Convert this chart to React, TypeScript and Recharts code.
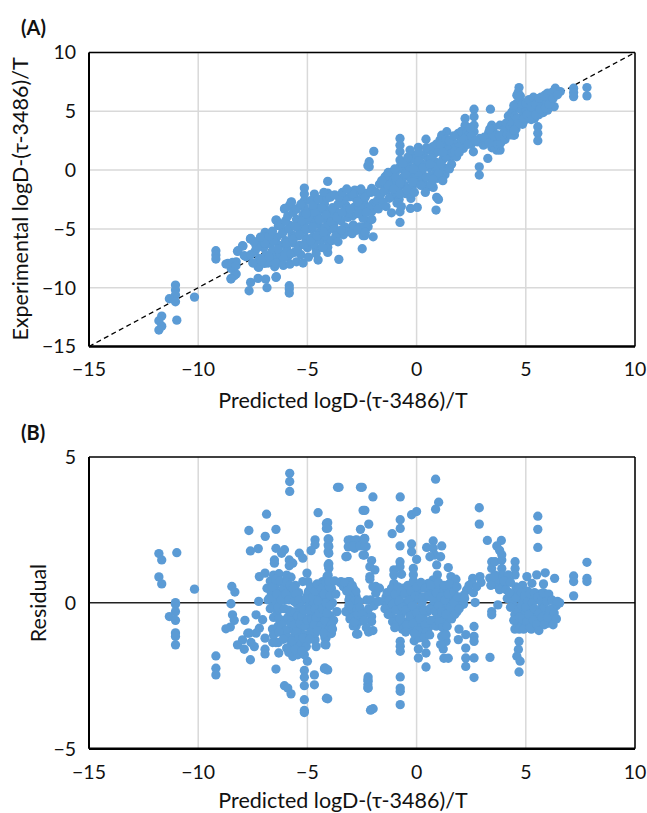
import React from 'react';
import {
  CartesianGrid,
  Label,
  ReferenceLine,
  Scatter,
  ScatterChart,
  XAxis,
  YAxis,
} from 'recharts';

type Pair = [number, number];

const xTicks = [-15, -10, -5, 0, 5, 10];
const parityYTicks = [-15, -10, -5, 0, 5, 10];
const residualYTicks = [-5, 0, 5];
const xTitle = 'Predicted logD-(τ-3486)/T';
const parityYTitle = 'Experimental logD-(τ-3486)/T';
const residualYTitle = 'Residual';
const dotColor = '#5B9BD5';

// panel A, predicted vs experimental
const parityLow: Pair[] = [
  [-11.04, -9.78], [-11.04, -10.2], [-11.04, -10.63], [-11.32, -10.94], [-11.04, -11.2], [-10.17, -10.8],
  [-11.67, -12.41], [-11.8, -12.81], [-11.67, -13.27], [-11.8, -13.6], [-10.98, -12.76],
  [-9.19, -6.86], [-9.19, -7.22], [-9.19, -7.56], [-8.64, -7.94], [-8.26, -7.8], [-8.49, -8.36], [-8.26, -8.84], [-8.49, -9.2],
  [-8.73, -7.99], [-8.43, -7.85], [-8.27, -8.13], [-8.35, -8.98], [-8.5, -9.26],
  [-8.18, -6.86], [-7.95, -6.46], [-7.8, -7.37], [-7.6, -5.81], [-7.34, -6.1], [-6.91, -5.39], [-6.91, -5.81], [-7.11, -6.38],
  [-7.6, -9.55], [-7.67, -10.26], [-7.26, -9.21], [-6.91, -9.27], [-6.85, -10.0], [-6.42, -9.07],
  [-5.83, -9.83], [-5.83, -10.11], [-5.83, -10.45], [-7.26, -8.22], [-6.96, -7.94], [-6.5, -8.22], [-7.23, -8.27],
  [-6.42, -4.25], [-6.04, -3.26], [-5.73, -2.7], [-5.83, -3.03], [-6.44, -4.25], [-6.33, -4.73], [-6.94, -5.3], [-6.94, -5.72],
  [-7.61, -5.86], [-7.2, -6.15], [-7.97, -6.43], [-8.2, -6.91], [-7.89, -7.28], [-7.35, -6.43], [-4.51, -7.65], [-3.56, -7.59],
  [-4.07, -7.0], [-4.6, -6.71], [-4.58, -6.74], [-2.49, -6.69], [-2.38, -5.58], [-6.44, -9.12],
];
const parityMiddleLeft: Pair[] = [
  [-7.6, -7.2], [-7.4, -6.9], [-7.2, -7.5], [-7, -6.6], [-6.9, -7.2], [-6.8, -7.9], [-6.7, -6.3], [-6.6, -6.9], [-6.5, -7.5],
  [-6.4, -5.7], [-6.3, -6.4], [-6.25, -7.1], [-6.2, -7.8], [-6.1, -5.2], [-6, -6], [-5.95, -6.7], [-5.9, -7.4], [-5.8, -4.7],
  [-5.7, -5.5], [-5.65, -6.2], [-5.6, -7], [-5.5, -4.2], [-5.45, -4.9], [-5.4, -5.6], [-5.35, -6.4], [-5.3, -7.2],
  [-5.2, -3.8], [-5.15, -4.5], [-5.1, -5.1], [-5.05, -5.8], [-5, -6.6], [-4.9, -3.6], [-4.85, -4.3], [-4.8, -5], [-4.75, -5.7],
  [-4.7, -6.3], [-4.6, -3.2], [-4.55, -3.9], [-4.5, -4.6], [-4.45, -5.3], [-4.4, -6], [-5.14, -1.53], [-5.14, -2.04], [-5.14, -2.6],
  [-5.14, -3.17], [-4.68, -2.04], [-4.07, -0.96], [-4.07, -1.95], [-4.3, -2.46], [-4.22, -2.89], [-4.07, -3.46], [-4.02, -4.02],
  [-4.07, -4.59], [-4.07, -5.16], [-4.07, -6.0], [-4.07, -6.57], [-5.75, -2.75], [-6.05, -3.31], [-4.3, -3.4], [-4.25, -4.1],
  [-4.2, -4.9], [-4.15, -5.6], [-3.95, -3.9], [-3.8, -4.6], [-3.7, -3.5], [-3.5, -4.2], [-3.46, -4.31],
];
const parityMiddle: Pair[] = [
  [-3.23, -3.03], [-2.84, -2.32], [-2.69, -1.76], [-2.46, -2.04], [-2.92, -3.88], [-3.15, -4.02], [-2.77, -3.17], [-2.39, -2.89],
  [-3.15, -5.01], [-2.84, -5.16], [-2.46, -4.87], [-2.23, -4.31], [-2.23, 0.37], [-1.96, 1.59], [-2.17, 0.71], [-2.17, 0.28],
  [-3.29, -2.97], [-2.83, -1.7], [-3.06, -2.27], [-3.13, -3.68], [-2.6, -2.55], [-2.83, -3.12], [-2.06, -1.56], [-2.29, -1.98],
  [-1.99, -2.83], [-2.06, -3.54], [-3.29, -4.82], [-2.9, -4.67], [-2.6, -4.82], [-2.22, -4.82], [-3.21, -5.24], [-2.45, -4.11],
  [-1.99, -5.67], [-2.45, -5.58], [-1.15, -3.63], [-0.76, -3.54], [-0.76, -4.45], [-0.28, -3.26], [0.03, -3.17],
  [-0.26, -2.41], [-0.26, -1.98], [0.43, -1.56], [0.76, -1.47], [0.92, -2.32], [1.0, -2.49], [0.89, -3.4],
  [-0.76, 2.69], [-0.76, 2.12], [-0.76, 1.56], [-0.76, 0.85], [-0.76, 0.28], [0.43, 2.63], [0.08, 1.93], [-0.08, 1.27], [0.31, 1.27],
  [-1.55, -1.1], [-1.4, -0.5], [-1.35, -1.7], [-1.2, -0.7], [-1.1, -1.3], [-1.05, -2.2], [-0.95, -0.1], [-0.9, -0.9], [-0.85, -1.7],
  [-0.8, -2.5], [-0.7, 0.1], [-0.6, -0.6], [-0.55, -1.3], [-0.5, -2], [-0.4, 0.6], [-0.3, -0.1], [-0.25, -0.8], [-0.2, -1.4],
  [-0.1, 0.9], [-0.05, 0.2], [0, -0.5], [0.05, -1.1], [0.15, 1.2], [0.2, 0.6], [0.25, -0.1], [0.3, -0.8], [0.35, -1.3],
  [0.5, 1.7], [0.55, 0.9], [0.6, 0.2], [0.65, -0.5], [0.7, -1.1], [0.8, 1.4], [0.85, 0.7], [0.9, 0], [0.95, -0.7],
  [1.07, 2.55], [1.15, 1.6], [1.2, 0.9], [1.25, 0.2], [1.3, -0.4], [1.15, -0.71], [1.45, 0.14], [1.38, 3.26], [1.15, 2.97],
  [1.5, 1.9], [1.55, 1.1], [1.6, 0.5], [1.91, 3.12], [1.83, 1.13], [1.75, 2.2],
];
const parityHigh: Pair[] = [
  [2.22, 4.39], [2.63, 5.18], [2.63, 4.53], [2.22, 3.82], [2.63, 3.82], [2.45, 3.4], [2.63, 3.26], [3.38, 5.18], [3.44, 3.82],
  [3.82, 3.82], [4.05, 3.82], [3.26, 0.99], [2.87, 0.28], [2.87, -0.42], [2.14, 1.84], [2.6, 1.56], [3.06, 2.12], [3.67, 1.7],
  [3.82, 1.7], [3.36, 2.55], [3.52, 3.12], [3.98, 3.12], [4.43, 2.97], [4.51, 3.97], [4.59, 5.38], [4.59, 6.37],
  [3.6, 2.4], [3.75, 2.1], [3.9, 2.6], [3.5, 3.5], [3.7, 2.8], [4.1, 3.3], [4.2, 4], [4.3, 4.5], [2.3, 2.5], [2.5, 2.2], [2.8, 2.4],
  [4.69, 7.02], [4.69, 6.25], [4.59, 5.68], [4.43, 5.11], [4.28, 4.26], [4.48, 2.98], [5.55, 3.69], [5.55, 3.13], [5.55, 2.5],
  [7.19, 6.96], [7.19, 6.59], [7.19, 6.25], [7.8, 7.02], [7.8, 6.31], [6.35, 6.96], [6.58, 6.68], [6.3, 5.4],
  [4.65, 6.6], [4.7, 5.9], [4.75, 5.2], [4.8, 4.5], [4.85, 3.9], [4.9, 5.6], [5, 5], [5, 4.3], [5.1, 5.9], [5.15, 5.3], [5.2, 4.6],
  [5.3, 5.8], [5.35, 5.1], [5.4, 4.4], [5.5, 6], [5.55, 5.4], [5.6, 4.7], [5.7, 6.2], [5.75, 5.6], [5.8, 4.9], [5.9, 6.4],
  [5.95, 5.7], [6, 5.1], [6.1, 6.5], [6.15, 5.9],
];
// the solid band along the dashed line
const parityBand: Pair[] = [
  [-7.5, -7.9], [-7.3, -6.6], [-7.1, -7.7], [-6.95, -6.2], [-6.75, -7.4], [-6.55, -6.0], [-6.45, -7.9], [-6.35, -6.7], [-6.15, -5.4], [-6.05, -7.4],
  [-5.95, -6.2], [-5.85, -5], [-5.75, -7.1], [-5.65, -5.9], [-5.55, -4.8], [-5.45, -6.8], [-5.35, -5.5], [-5.25, -4.3], [-5.15, -6.3], [-5.05, -5],
  [-4.95, -4], [-4.85, -6], [-4.75, -4.8], [-4.65, -3.6], [-4.55, -5.6], [-4.45, -4.2], [-4.35, -3.2], [-4.25, -5.3], [-4.15, -3.8], [-4.1, -2.4],
  [-3.9, -4.4], [-3.85, -3.2], [-3.75, -5], [-3.65, -4], [-3.6, -2.9], [-3.4, -3.6], [-3.3, -2.5], [-3.05, -3.3], [-2.95, -2], [-2.7, -2.7],
  [-2.55, -1.6], [-2.35, -2.3], [-2.2, -3.2], [-2.1, -1.9], [-3.35, -5.5], [-2.95, -5.4], [-2.7, -5.1], [-2.35, -5.3],
  [-1.85, -1.9], [-1.8, -2.6], [-1.7, -1.2], [-1.65, -2.1], [-1.5, -1.8], [-1.45, -0.6], [-1.3, -1.3], [-1.25, -2.4], [-1.15, -0.2], [-1.05, -1.6],
  [-0.95, -0.6], [-0.9, -2.8], [-0.75, -1.1], [-0.75, -2], [-0.7, -3.1], [-0.5, -0.3], [-0.45, -1.7], [-0.35, 0.3], [-0.15, -1], [-0.1, -1.9],
  [0.1, 0.8], [0.1, -0.2], [0.2, -1.3], [0.4, 0.4], [0.45, -0.6], [0.45, 1.9], [0.65, 1], [0.65, -1.2], [0.75, 2], [0.85, 0.3], [1, 1.6], [1, -0.3],
  [1.1, 0.6], [1.3, 2], [1.35, 1.1], [1.45, 1.7], [1.65, 1.5], [1.95, 2], [2.05, 2.6], [2.05, 3.3], [2.3, 3.1], [2.35, 2.9], [2.5, 2.9], [2.9, 2.7],
  [3.3, 3.2], [3.4, 2.2], [3.45, 1.9], [3.55, 2], [3.7, 3], [3.7, 2.2], [3.85, 2.3], [3.95, 2.9], [4.05, 3.5], [4.1, 4], [4.2, 4.6], [4.3, 3.7],
  [4.35, 4.9], [4.4, 4], [4.45, 5.5], [4.5, 4.6], [4.55, 3.5], [4.6, 4.4], [4.65, 3.9], [4.75, 6.3], [4.85, 5.6], [4.9, 4.4], [5, 5.7], [5.05, 4.7],
  [5.15, 6], [5.25, 5.4], [5.25, 4.3], [5.35, 6.2], [5.45, 5.6], [5.45, 4.7], [5.6, 6.1], [5.65, 5.2], [5.85, 6.3], [5.9, 5.3], [6.0, 6.55], [6.05, 5.6],
  [6.2, 6.6], [6.25, 6.1], [6.45, 6.4],
];
const parityEdges: Pair[] = [
  [-7.45, -6.1], [-7.15, -5.7], [-6.75, -5.6], [-6.6, -5.2], [-6.2, -4.6], [-6, -4.3], [-5.9, -3.9], [-5.65, -3.6], [-5.5, -3.3], [-5.3, -2.9], [-5.05, -3.7],
  [-4.85, -2.6], [-4.75, -3], [-4.5, -2.5], [-4.25, -1.9], [-3.95, -2.3], [-3.75, -2.1], [-3.55, -2.3], [-6.1, -8.1], [-5.8, -8], [-5.5, -7.8], [-5.2, -7.9],
  [-4.95, -7.4], [-4.6, -7.1], [-4.3, -6.6], [-3.9, -6], [-3.7, -5.6], [-3.45, -5.1], [-3.6, -6.1], [-3.4, -1.9], [-3.2, -1.6], [-2.5, -3.4], [-2.65, -3.7],
  [-2.3, -3.6], [-2.05, -4.2], [-1.75, -3.3], [-1.55, -2.7], [-1.4, -3.1], [-1.6, -0.9], [-1.3, -0.2], [-1.0, 0.1], [-0.6, 0.6], [-0.4, 1.1], [-0.3, 1.7],
  [-0.15, 0.1], [0.1, 1.5], [0.3, 0.2], [0.6, 0.5], [0.9, 2.2], [1.1, 2.2], [1.2, 1.5], [1.35, 2.6], [1.5, 2.5], [1.7, 2.9], [1.75, 1.6], [1.5, 0.1], [1.2, -0.9],
  [0.4, -1.9], [0.75, -0.8], [1.95, 1.5], [2.15, 2.6], [2.35, 2.2], [2.45, 3.6], [2.7, 2.5], [3.1, 2.8], [3.3, 2.3], [3.55, 2.9], [3.35, 3.5], [3.8, 2.9],
  [4.05, 2.6], [4.15, 3], [4.3, 3], [4.45, 3.4],
];

// panel B, predicted vs residual
const residualLow: Pair[] = [
  [-11.8, 1.69], [-11.67, 1.47], [-10.98, 1.72], [-11.8, 0.89], [-11.67, 0.65], [-10.17, 0.47], [-11.04, 0.01], [-11.04, -0.05], [-11.04, -0.3],
  [-11.32, -0.47], [-11.04, -0.6], [-11.04, -1.03], [-11.04, -1.15], [-11.04, -1.44],
  [-9.19, -1.82], [-9.19, -2.24], [-9.19, -2.47], [-8.46, 0.56], [-8.32, 0.37], [-8.5, -0.03], [-8.43, -0.41], [-8.35, -0.6], [-8.53, -0.83], [-8.73, -0.89],
  [-7.86, -0.6], [-7.35, -0.41], [-7.05, -0.58], [-7.2, -0.87], [-7.35, -1.04], [-7.66, -1.04], [-7.73, -1.04], [-6.94, -1.21],
  [-7.97, -1.27], [-8.2, -1.44], [-7.89, -1.59], [-7.43, -1.5], [-7.58, -1.36], [-7.61, -1.95], [-6.94, -1.59], [-6.94, -1.75],
  [-6.31, -1.72], [-6.44, -1.36], [-6.33, -1.36], [-6.59, -1.36], [-6.44, -2.27], [-6.05, -2.84], [-5.9, -2.92], [-5.75, -3.12],
  [-5.14, -2.32], [-5.14, -2.55], [-5.14, -2.84], [-5.14, -3.32], [-5.14, -3.69], [-5.14, -3.76], [-4.68, -2.47], [-4.68, -2.81],
  [-4.22, -2.26], [-4.07, -2.3], [-4.07, -3.29], [-5, -2.0], [-5.67, -1.84], [-5.44, -1.78], [-5.14, -1.78], [-5.75, -1.44], [-5.44, -1.44], [-5.14, -1.38], [-5.3, -1.04],
  [-4.65, -1.27], [-4.65, -1.04], [-4.65, -0.7], [-4.15, -1.21], [-4.15, -1.44], [-4, -0.75], [-4.23, -0.9],
  [-5.81, 4.44], [-5.81, 4.16], [-5.81, 3.82], [-3.55, 3.96], [-2.49, 3.96], [-6.87, 3.04], [-7.68, 2.48], [-6.44, 2.52], [-6.93, 2.28],
  [-4.51, 3.09], [-4.07, 2.75], [-4.07, 2.56], [-2.37, 3.17], [-7.61, 1.78], [-7.25, 1.86], [-6.44, 1.87], [-6.05, 1.82], [-6.51, 1.47], [-6.51, 1.36],
  [-5.83, 1.47], [-5.67, 1.36], [-5.37, 1.7], [-5.21, 1.53], [-5.83, 1.27], [-6.18, 1.7], [-4.65, 2.16], [-4.65, 1.99], [-4.83, 1.79],
  [-4.02, 2.18], [-4.02, 1.93], [-4.02, 1.7], [-4.02, 1.34], [-4.02, 1.19], [-3.18, 1.59], [-5.02, 1.02], [-7.23, 0.05], [-7.2, 0.9], [-6.94, 1.02],
];
const residualCluster: Pair[] = [
  [-6.85, 0.5], [-6.8, 0.1], [-6.7, 0.75], [-6.65, 0.3], [-6.6, -0.15], [-6.55, 0.95], [-6.5, 0.55], [-6.45, 0.05], [-6.4, -0.4], [-6.35, -0.8],
  [-6.3, 1], [-6.25, 0.35], [-6.2, -0.2], [-6.15, 0.7], [-6.1, 0.1], [-6.05, -0.6], [-6, -1.1], [-5.95, 0.95], [-5.9, 0.4], [-5.85, -0.25],
  [-5.8, -0.9], [-5.75, 0.88], [-5.7, 0.2], [-5.65, -0.45], [-5.6, -1.15], [-5.55, 0.6], [-5.5, 0], [-5.45, -0.7], [-5.4, 0.35], [-5.35, -0.3],
  [-5.3, -0.85], [-5.25, 0.1], [-5.2, -0.55], [-5.15, -1.1], [-5.21, 0.73], [-4.98, 0.73], [-5, 0.25], [-4.95, -0.1], [-4.9, -0.5], [-4.85, -0.85],
  [-4.8, 0.45], [-4.75, 0.05], [-4.7, -0.3], [-4.6, 0.6], [-4.55, 0.2], [-4.5, -0.2], [-4.45, -0.6], [-4.4, 0.4], [-4.35, 0], [-4.3, 0.73],
  [-4.25, -0.4], [-4.2, 0.15], [-4.1, 0.9], [-4.07, 0.45], [-4.05, -0.1], [-4, 0.2], [-3.95, -0.45], [-3.9, 0.5], [-3.85, 0], [-3.8, -0.6],
  [-4.05, 1.3], [-4.05, 1.75], [-4.05, 1.98], [-4.05, 2.19], [-4.13, 2.72], [-4.13, 2.55], [-3.46, 0.73], [-3.07, 0.73], [-2.84, 0.39], [-2.77, 0.22], [-3, 0.33],
  [-3.15, -0.33], [-2.84, -0.35], [-3, -0.07], [-2.69, -1.07], [-2.77, -0.79], [-2.61, -0.64], [-2.23, -2.64], [-2.23, -2.81], [-2.23, -2.92], [-2.08, -3.66],
  [-3.04, 2.16], [-2.74, 2.16], [-2.84, 1.87], [-3.07, 1.95], [-2.39, 2.21], [-2.31, 1.93], [-2.39, 1.64], [-2.61, 2.04],
  [-3.49, 0.69], [-3.13, 0.73], [-2.9, 0.5], [-2.78, 0.39], [-3.06, 0.22], [-2.98, -0.01], [-3.13, -0.24], [-2.83, -0.35], [-2.68, -0.41], [-3.24, -0.3],
  [-2.29, 0.1], [-2.37, -0.35], [-2.06, -0.47], [-2.06, -0.64], [-2.75, -0.64], [-2.75, -1.07], [-2.9, -0.79],
  [-4.2, -1.2], [-4.2, -1.43], [-4.2, -2.23], [-4.1, -2.29], [-4.13, -3.27], [-2.22, -2.54], [-2.22, -2.69], [-2.22, -2.92], [-1.99, -3.63], [-2.11, -3.68],
  [-6.75, 0.15], [-6.7, -0.2], [-6.6, 0.55], [-6.55, -0.5], [-6.45, 0.8], [-6.4, 0.3], [-6.35, -0.15], [-6.3, -0.55], [-6.25, 0.75], [-6.2, 0.1],
  [-6.15, -0.75], [-6.1, 0.5], [-6.05, -0.2], [-6, -0.95], [-6, 0.3], [-5.95, 0.7], [-5.9, -0.5], [-5.9, -1.2], [-5.85, 0.1], [-5.8, 0.6],
  [-5.75, -0.3], [-5.75, -0.7], [-5.7, -1.3], [-5.65, 0.5], [-5.6, 0.05], [-5.6, -0.75], [-5.55, -0.3], [-5.5, -1], [-5.5, 0.3], [-5.45, -0.45],
  [-5.4, -1.2], [-5.4, 0.1], [-5.35, -0.7], [-5.3, -0.15], [-5.3, -1.45], [-5.25, -0.45], [-5.2, -1.2], [-5.15, -0.25], [-5.1, -0.8], [-5.05, 0.15],
  [-5.05, -1.5], [-5, -0.6], [-4.95, 0.4], [-4.9, -0.25], [-4.85, -1], [-4.85, 0.55], [-4.8, -0.55], [-4.75, 0.2], [-4.7, -0.75], [-4.65, -0.2],
  [-4.65, 0.4], [-4.6, -0.5], [-4.55, 0.65], [-4.5, 0.05], [-4.45, -0.35], [-4.4, -0.8], [-4.35, 0.5], [-4.3, -0.2], [-4.25, 0.3], [-4.2, -0.6],
  [-4.15, 0.7], [-4.15, 0], [-4.1, -0.35], [-4.05, 0.95], [-4, 0.55], [-3.95, -0.1], [-3.95, 0.25], [-3.9, -0.75], [-4.02, 0.75],
  [-3.35, 0.55], [-3.15, 0.5], [-3.1, 0.1], [-2.85, 0.05], [-2.95, -0.2], [-2.9, -0.5], [-2.75, -0.2], [-2.65, 0.05], [-2.2, -0.2],
];
const residualHigh: Pair[] = [
  [-3.62, 3.96], [-2.57, 3.96], [-2, 3.63], [-0.75, 3.63], [-2.45, 3.17], [-2.19, 2.7], [-2.57, 2.52], [-0.75, 2.85], [-0.75, 2.55], [-1.12, 2.37],
  [-0.23, 3.02], [0, 3.13], [0.87, 4.24], [1.01, 3.45], [0.87, 3.21], [2.87, 3.26], [2.87, 2.7], [3.24, 2.14], [3.88, 2.14], [3.67, 1.95],
  [5.55, 2.97], [5.55, 2.52], [5.55, 1.9], [7.8, 1.39], [7.8, 0.84], [7.8, 0.73], [7.19, 0.92], [7.19, 0.73], [7.19, 0.24], [6.32, 0.84], [5.89, 1.03], [5.81, 0.65],
  [-3.13, 2.15], [-2.8, 2.15], [-3.13, 1.92], [-2.9, 1.95], [-2.6, 1.95], [-2.37, 1.95], [-2.37, 2.2], [-3.24, 1.58], [-2.45, 1.64],
  [-2.06, 1.45], [-2.14, 1.24], [-1.91, 1.13], [-2.14, 0.9], [-2.14, 0.81], [-1.87, 0.56], [-1.87, 0.33],
  [-0.75, -2.54], [-0.75, -2.92], [-0.75, -3.03], [-0.75, -3.49], [-0.75, -1.32], [-0.75, -1.49], [-0.75, -1.66], [-0.11, -1.3], [0.08, -1.58], [0.08, -1.89],
  [0.43, -1.4], [0.43, -1.72], [0.43, -2.2], [1.22, -1.58], [1.25, -1.9], [1.45, -1.9], [1.3, -1.04], [1.35, -1.32], [1.1, -1.43],
  [1.94, -0.9], [1.91, -1.26], [2.25, -1.09], [2.25, -1.55], [2.25, -1.89], [2.25, -2.18], [2.63, -0.81], [2.63, -1.15], [2.63, -1.32], [2.63, -1.89], [2.63, -2.56],
  [3.36, -1.87], [4.69, -1.32], [4.66, -1.6], [4.59, -1.83], [4.74, -2], [4.69, -2.37], [3.44, -0.3], [3.44, -0.41], [3.72, -0.07], [2.68, 0.01],
  [4.51, 1.41], [4.51, 1.18], [4.51, 0.96], [-0.76, 1.95], [-0.76, 1.41], [-0.76, 1.24], [-1.04, 1.13], [-1.04, 0.96], [-1.04, 0.67], [-0.69, 0.98],
  [-0.23, 2.02], [-0.23, 1.75], [0, 1.49], [-0.15, 1.18], [-0.15, 0.96], [0.76, 2.12], [0.46, 1.9], [1.15, 1.95], [0.76, 1.87], [0.84, 1.64], [0.61, 1.58], [1.1, 1.58], [0.92, 1.3],
  [1.45, 1.21], [1.57, 0.9], [1.8, 0.81], [1.68, 0.56], [0.95, 0.96], [0.76, 0.79], [0.54, 0.67], [2.9, 0.9], [2.57, 0.84], [2.52, 0.67], [2.29, 0.44], [2.17, 0.27],
  [3.44, 1.41], [3.44, 1.18], [3.59, 1.41], [3.9, 1.47], [3.9, 1.18], [3.9, 0.96], [3.52, 0.79], [3.67, 0.61], [3.98, 0.56], [4.2, 0.96], [3.9, 1.65], [3.8, 1.8],
  [5.05, 0.9], [5.5, 0.96], [5.28, 0.67],
  [-1.4, 0.2], [-1.3, -0.1], [-1.2, 0.35], [-1.15, -0.3], [-1.05, 0.1], [-1, -0.55], [-0.95, 0.4], [-0.85, -0.15], [-0.8, -0.8], [-0.75, 0.25], [-0.7, -0.4],
  [-0.6, 0.5], [-0.55, 0], [-0.5, -0.65], [-0.4, 0.3], [-0.35, -0.25], [-0.3, -0.85], [-0.2, 0.6], [-0.15, 0.05], [-0.1, -0.5], [0, 0.3], [0.05, -0.2], [0.1, -0.8],
  [0.2, 0.5], [0.25, 0], [0.3, -0.5], [0.3, -1], [0.45, 0.2], [0.5, -0.3], [0.55, -0.85], [0.7, 0.4], [0.75, -0.1], [0.8, -0.6], [0.95, 0.55], [1, 0.05], [1.05, -0.45],
  [1.2, 0.35], [1.25, -0.15], [1.3, -0.65], [1.4, 0.5], [1.45, 0], [1.5, -0.5], [1.6, 0.25], [1.65, -0.25], [1.8, 0.1], [1.85, -0.3], [2, -0.05], [2.15, -0.05],
  [4.35, 0.3], [4.45, -0.1], [4.5, -0.4], [4.55, 0.55], [4.6, -0.7], [4.7, 0.15], [4.75, -0.3], [4.8, -0.8], [4.85, 0.6], [4.9, 0.1], [4.95, -0.4], [5, -0.85],
  [5.1, 0.4], [5.15, -0.1], [5.2, -0.6], [5.25, -0.9], [5.3, 0.25], [5.35, -0.3], [5.45, 0.1], [5.5, -0.5], [5.55, -0.8], [5.65, 0.3], [5.7, -0.2], [5.75, -0.7],
  [5.9, 0.2], [5.95, -0.3], [6, -0.7], [6.1, 0.1], [6.15, -0.4], [6.2, -0.2], [6.35, -0.55], [6.4, -0.1], [6.55, 0],
  [-1.5, 0.05], [-1.45, -0.2], [-1.35, 0.35], [-1.3, -0.4], [-1.25, 0.1], [-1.15, 0.5], [-1.1, -0.05], [-1.1, -0.65], [-1, 0.3], [-0.95, -0.25], [-0.9, -0.7],
  [-0.85, 0.55], [-0.8, 0.05], [-0.75, -0.55], [-0.7, 0.4], [-0.65, -0.15], [-0.65, -0.9], [-0.55, 0.3], [-0.5, -0.25], [-0.45, -0.75], [-0.4, 0.6], [-0.35, 0.1],
  [-0.3, -0.45], [-0.25, 0.4], [-0.2, -0.1], [-0.15, -0.7], [-0.15, 0.75], [-0.05, 0.25], [0, -0.35], [0, 0.55], [0.05, -0.95], [0.1, 0.15], [0.15, -0.55], [0.2, 0.7],
  [0.3, 0.2], [0.35, -0.25], [0.4, -0.75], [0.4, 0.5], [0.45, -1.0], [0.55, 0.25], [0.6, -0.2], [0.65, -0.6], [0.65, 0.6], [0.75, 0.15], [0.85, -0.3], [0.9, -0.8],
  [0.9, 0.35], [1, 0.7], [1, -0.1], [1.05, -0.65], [1.1, 0.2], [1.15, -0.3], [1.2, -0.85], [1.25, 0.6], [1.3, 0.1], [1.35, -0.4], [1.4, -0.8], [1.45, 0.3], [1.5, 0.65],
  [1.55, -0.15], [1.6, -0.55], [1.7, 0.4], [1.7, 0], [1.75, -0.4], [1.85, 0.55], [1.9, 0.2], [1.95, -0.2],
  [4.4, 0.1], [4.45, -0.6], [4.5, -0.9], [4.55, 0.2], [4.6, -0.25], [4.65, 0.45], [4.7, -0.5], [4.7, -0.9], [4.8, 0.35], [4.8, -0.1], [4.85, -0.55], [4.9, -0.9],
  [4.95, 0.25], [5, -0.15], [5.05, -0.65], [5.1, 0.05], [5.15, -0.4], [5.2, 0.3], [5.2, -0.85], [5.3, 0], [5.35, -0.6], [5.4, 0.35], [5.4, -0.2], [5.5, -0.75],
  [5.55, 0.2], [5.6, -0.35], [5.6, -0.95], [5.7, 0.05], [5.75, -0.5], [5.8, 0.35], [5.85, -0.15], [5.85, -0.75], [5.95, 0.05], [6, -0.5], [6.05, 0.3], [6.1, -0.25],
  [6.2, 0.1], [6.25, -0.75], [6.3, -0.35], [6.4, -0.55], [6.45, 0.05],
];
const residualEdges: Pair[] = [
  [-3.3, 0.7], [-3.2, 0.4], [-3.1, -0.1], [-3.05, -0.55], [-2.95, 0.6], [-2.85, -0.65], [-2.7, -0.4], [-2.6, -0.15], [-2.5, -0.4], [-2.4, -0.6], [-2.3, -0.85],
  [-2.2, -1], [-2.1, 0.1], [-2, 0.55], [-1.95, -0.1], [-2, -0.95], [-1.7, 0.5], [-1.75, 0.05], [2.2, 0.15], [2.4, 0.6], [2.6, 0.35], [2.75, 0.55], [2.95, 0.7],
  [3.35, 0.85], [3.4, 0.6], [3.6, 0.95], [3.75, 0.8], [3.8, 0.45], [4, 0.75], [4.1, 0.45], [4.15, 0.15], [4.25, 0.35], [4.3, 0.7], [4.3, -0.15], [3.55, 0.9],
  [0.1, -1.2], [0.35, -1.2], [1.15, -1.15], [1.35, -1.1], [-0.5, -1], [-0.1, -1.05], [0.6, -1.1], [-1, -0.85], [-6.6, -0.9], [-6.55, -1.1], [-6.3, -1], [-6.1, -1.25],
  [-5.95, -1.55], [-5.85, -1.7], [-5.55, -1.6], [-5.25, -1.65], [-4.9, -1.25], [-4.6, -1.5], [-4.55, -0.95], [-4.25, -1.05], [-3.9, -1.05], [-3.85, -0.9],
  [-3.75, 0.75], [-3.7, 0.3], [-3.65, -0.3],
];

const toPoints = (pairs: Pair[]) => pairs.map(([x, y]) => ({ x, y }));
const formatTick = (value: number) => String(value).replace('-', '\u2212');
const parityData = toPoints([...parityLow, ...parityMiddleLeft, ...parityMiddle, ...parityHigh, ...parityBand, ...parityEdges]);
const residualData = toPoints([...residualLow, ...residualCluster, ...residualHigh, ...residualEdges]);

const fontFamily = 'Lato, "Open Sans", sans-serif';
const tickStyle = { fontSize: 19.5, fill: '#111', fontFamily };
const titleStyle = { fontSize: 21.5, fill: '#111', fontFamily, textAnchor: 'middle' as const };
const panelLabel: React.CSSProperties = {
  position: 'absolute',
  left: 21,
  fontFamily: 'Lato, sans-serif',
  fontWeight: 700,
  fontSize: 20,
  lineHeight: '24px',
  color: '#111',
};

const renderDot = ({ cx, cy }: any) => <circle cx={cx} cy={cy} r={4.65} fill={dotColor} />;

const App = () => (
  <div style={{ position: 'absolute', left: 0, top: 0, width: 647, height: 813, background: '#fff' }}>
    <div style={{ ...panelLabel, top: 15 }}>(A)</div>
    <div style={{ ...panelLabel, top: 420 }}>(B)</div>

    <div style={{ position: 'absolute', left: 0, top: 0 }}>
      <ScatterChart width={647} height={420} margin={{ top: 52.5, right: 12, bottom: 0, left: 0 }}>
        <CartesianGrid stroke='#D9D9D9' strokeWidth={1.5} />
        <XAxis
          type='number'
          dataKey='x'
          domain={[-15, 10]}
          ticks={xTicks}
          tickFormatter={formatTick}
          tick={tickStyle}
          tickLine={false}
          tickMargin={10}
          height={73.5}
          axisLine={{ stroke: '#000', strokeWidth: 2.5 }}
        >
          <Label value={xTitle} position={{ x: 254, y: 61.5 }} style={titleStyle} />
        </XAxis>
        <YAxis
          type='number'
          dataKey='y'
          domain={[-15, 10]}
          ticks={parityYTicks}
          tickFormatter={formatTick}
          tick={tickStyle}
          tickLine={false}
          tickMargin={7}
          width={89}
          axisLine={{ stroke: '#000', strokeWidth: 2 }}
        >
          <Label value={parityYTitle} angle={-90} position={{ x: 28, y: 146.5 }} style={titleStyle} />
        </YAxis>
        <Scatter data={parityData} shape={renderDot} isAnimationActive={false} />
        <ReferenceLine y={10} stroke='#000' strokeWidth={1.5} />
        <ReferenceLine x={10} stroke='#000' strokeWidth={1.5} />
        <ReferenceLine
          segment={[{ x: -15, y: -15 }, { x: 10, y: 10 }]}
          stroke='#000'
          strokeWidth={1.3}
          strokeDasharray='5 3.5'
        />
      </ScatterChart>
    </div>

    <div style={{ position: 'absolute', left: 0, top: 420 }}>
      <ScatterChart width={647} height={393} margin={{ top: 37, right: 12, bottom: 0, left: 0 }}>
        <CartesianGrid stroke='#D9D9D9' strokeWidth={1.5} horizontal={false} />
        <CartesianGrid stroke='#222' strokeWidth={1.5} vertical={false} horizontalValues={[0]} />
        <XAxis
          type='number'
          dataKey='x'
          domain={[-15, 10]}
          ticks={xTicks}
          tickFormatter={formatTick}
          tick={tickStyle}
          tickLine={false}
          tickMargin={10}
          height={64.3}
          axisLine={{ stroke: '#000', strokeWidth: 2.5 }}
        >
          <Label value={xTitle} position={{ x: 254, y: 59.5 }} style={titleStyle} />
        </XAxis>
        <YAxis
          type='number'
          dataKey='y'
          domain={[-5, 5]}
          ticks={residualYTicks}
          tickFormatter={formatTick}
          tick={tickStyle}
          tickLine={false}
          tickMargin={7}
          width={89}
          axisLine={{ stroke: '#000', strokeWidth: 2 }}
        >
          <Label value={residualYTitle} angle={-90} position={{ x: 46, y: 146 }} style={titleStyle} />
        </YAxis>
        <Scatter data={residualData} shape={renderDot} isAnimationActive={false} />
        <ReferenceLine y={5} stroke='#000' strokeWidth={1.5} />
        <ReferenceLine x={10} stroke='#000' strokeWidth={1.5} />
      </ScatterChart>
    </div>
  </div>
);

export default App;
